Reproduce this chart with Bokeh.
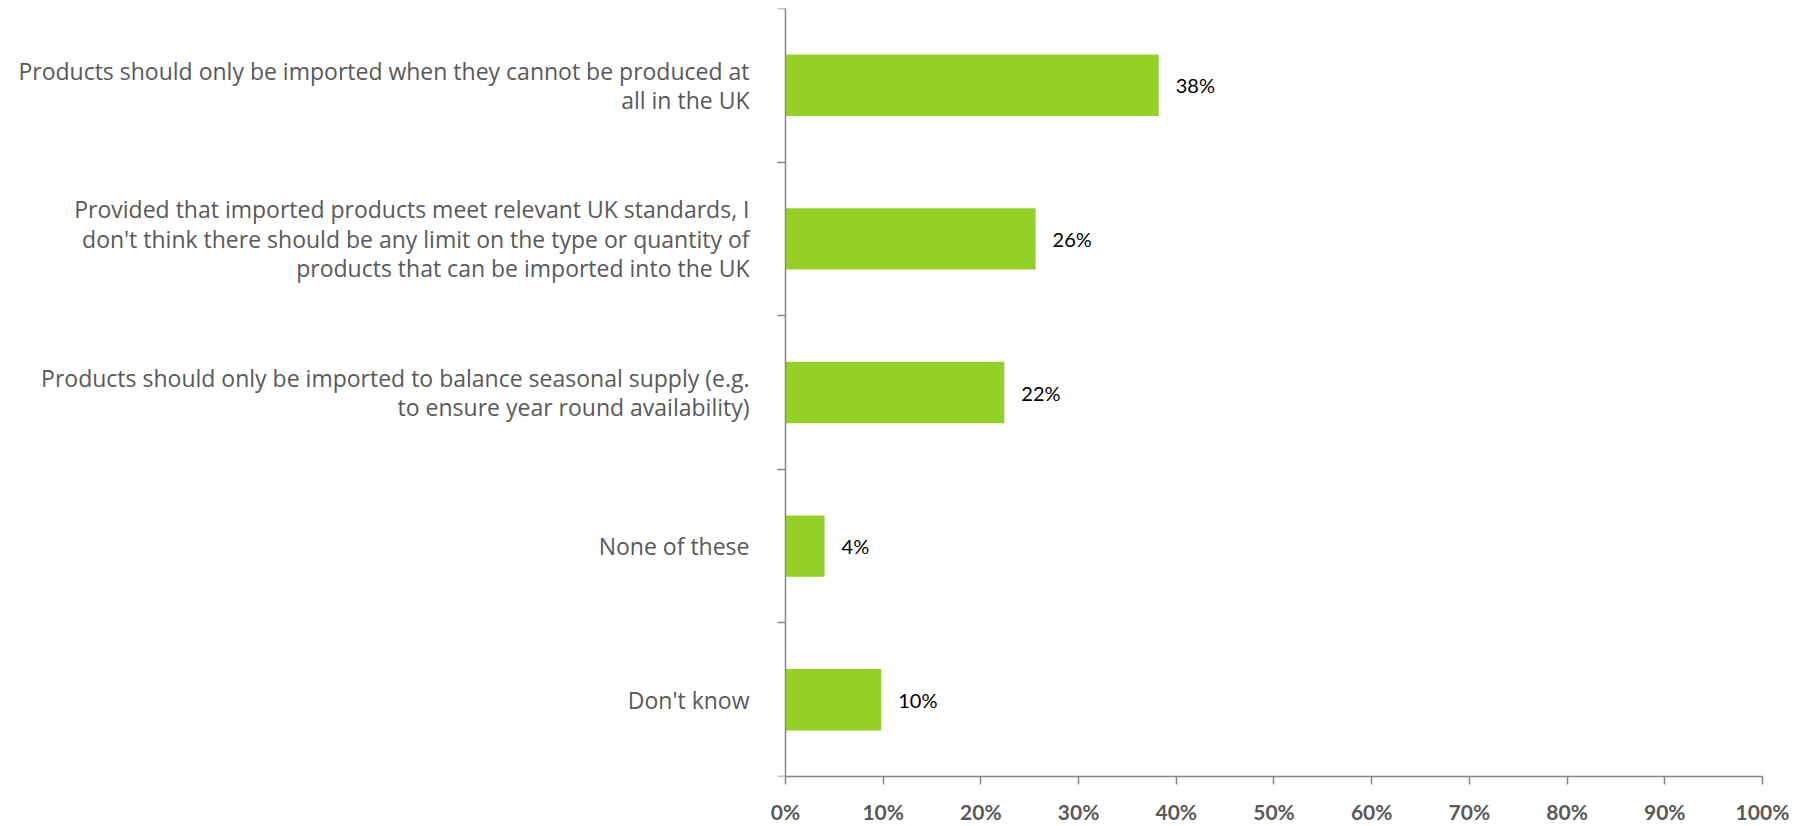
from bokeh.plotting import figure
from bokeh.models import ColumnDataSource, LinearAxis, FixedTicker, CustomJSTickFormatter
from bokeh.core.properties import value
from bokeh.embed import file_html
from bokeh.resources import INLINE

categories = [
    "Products should only be imported when they cannot be produced at\nall in the UK",
    "Provided that imported products meet relevant UK standards, I\ndon't think there should be any limit on the type or quantity of\nproducts that can be imported into the UK",
    "Products should only be imported to balance seasonal supply (e.g.\nto ensure year round availability)",
    "None of these",
    "Don't know",
]
values = [38.2, 25.6, 22.4, 4.0, 9.8]
labels = ["38%", "26%", "22%", "4%", "10%"]
x_ticks = [0, 10, 20, 30, 40, 50, 60, 70, 80, 90, 100]

n = len(categories)
ypos = [n - i - 0.5 for i in range(n)]

src = ColumnDataSource(dict(y=ypos, v=values, lab=labels, cat=categories, zero=[0] * n))

FONT = "Lato"
CAT_FONT = "Open Sans"
GREY = "#595959"
AXIS = "#868686"

p = figure(width=1800, height=826, x_range=(-79.53, 100.82), y_range=(0, 5),
           output_backend="svg", toolbar_location=None,
           min_border_left=8, min_border_right=30, min_border_top=8, min_border_bottom=47)
p.outline_line_color = None
p.xgrid.visible = False
p.ygrid.visible = False
p.yaxis.visible = False

p.hbar(y="y", left="zero", right="v", height=0.4, source=src,
       fill_color="#93D126", line_color=None)

p.text(x="v", y="y", text="lab", source=src, x_offset=17,
       text_font=value(FONT), text_font_size="20px", text_color="black",
       text_align="left", text_baseline="middle")

p.text(x="zero", y="y", text="cat", source=src, x_offset=-36,
       text_font=value(CAT_FONT), text_font_size="23px", text_color=GREY,
       text_align="right", text_baseline="middle", text_line_height=0.92)

# x axis
xa = p.xaxis[0]
xa.ticker = FixedTicker(ticks=x_ticks)
xa.formatter = CustomJSTickFormatter(code="return tick.toFixed(0) + '%';")
xa.bounds = (0, 100)
xa.axis_line_color = AXIS
xa.axis_line_width = 1.5
xa.major_tick_line_color = AXIS
xa.major_tick_line_width = 1.5
xa.major_tick_in = 0
xa.major_tick_out = 8
xa.minor_tick_line_color = None
xa.major_label_standoff = 14
xa.major_label_text_font = FONT
xa.major_label_text_font_style = "bold"
xa.major_label_text_font_size = "21px"
xa.major_label_text_color = GREY

# y axis at x = 0 (ticks at category boundaries, no labels)
ya = LinearAxis(fixed_location=0, ticker=FixedTicker(ticks=[0, 1, 2, 3, 4, 5]),
                formatter=CustomJSTickFormatter(code="return '';"))
ya.axis_line_color = AXIS
ya.axis_line_width = 1.5
ya.major_tick_line_color = AXIS
ya.major_tick_line_width = 1.5
ya.major_tick_in = 0
ya.major_tick_out = 8
ya.minor_tick_line_color = None
p.add_layout(ya, "left")

open("out.html", "w").write(file_html(p, INLINE))
